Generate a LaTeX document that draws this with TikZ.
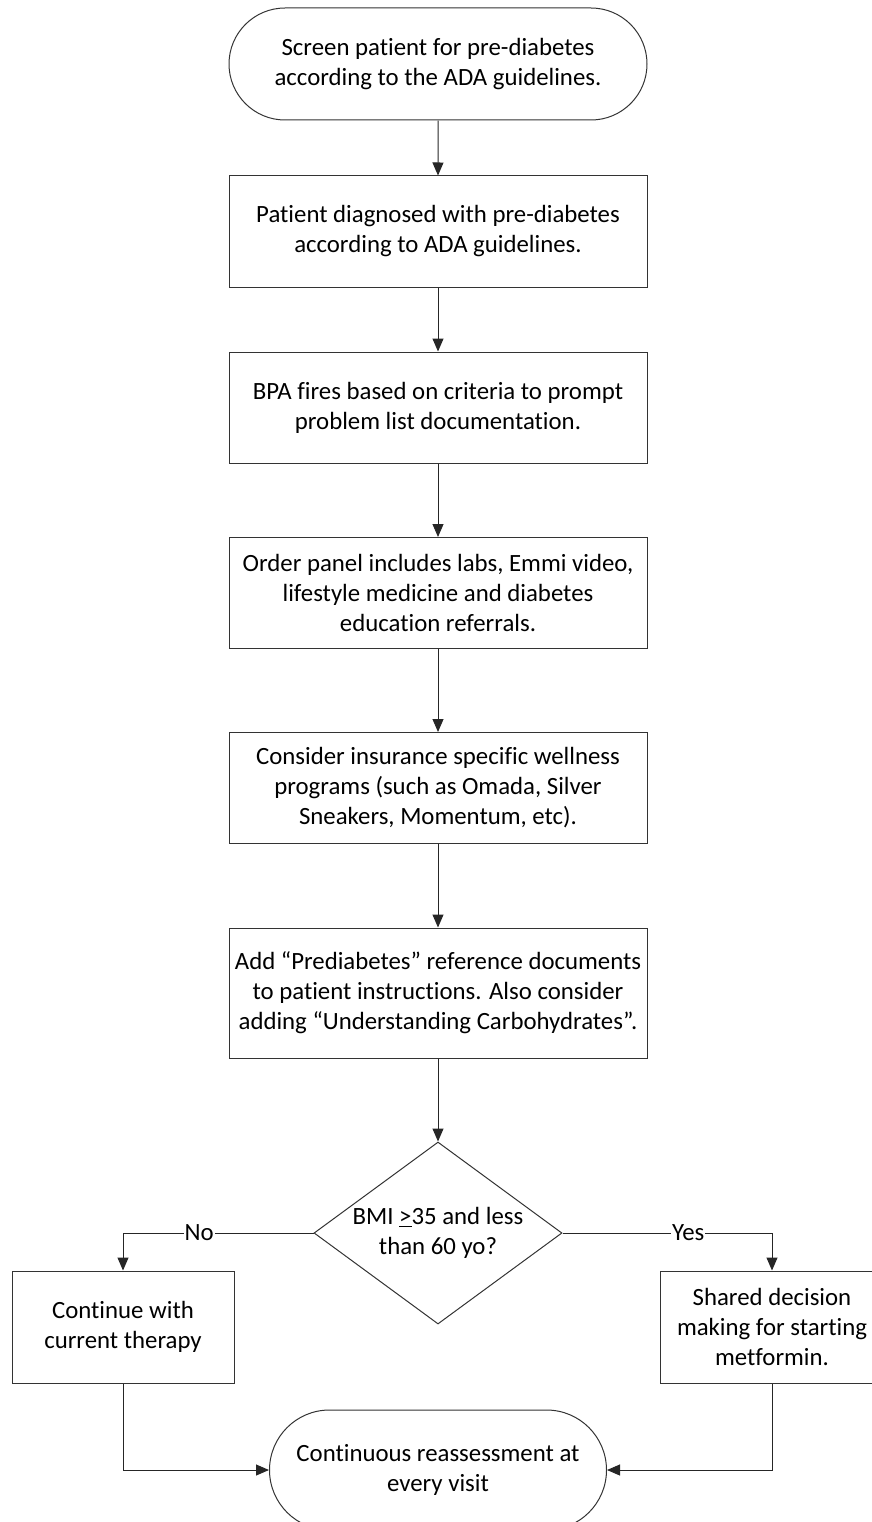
\documentclass[tikz,border=0pt]{standalone}
\usepackage{fontspec}
\setmainfont{Carlito}[Ligatures=NoCommon]
\usepackage{tikz}
\usetikzlibrary{arrows.meta,shapes.geometric,shapes.misc}

\begin{document}
\begin{tikzpicture}[x=1pt,y=-1pt,
  font=\fontsize{24.8}{30}\selectfont,
  process/.style={draw=black!80,line width=1pt,rectangle,minimum width=418pt,minimum height=111pt,inner sep=0pt,align=center},
  terminal/.style={draw=black!80,line width=1pt,rounded rectangle,minimum width=418pt,minimum height=112pt,inner sep=0pt,align=center},
  decision/.style={draw=black!80,line width=1pt,diamond,shape aspect=1.36,minimum width=248pt,minimum height=182pt,inner sep=0pt,align=center},
  flowline/.style={draw=black!85,line width=1pt,-{Triangle[length=13pt,width=11pt]}},
  answer/.style={fill=white,inner sep=1pt,pos=0.3}]
\useasboundingbox (0,0) rectangle (872,1522);
\node[terminal] (screen) at (438,64) {Screen patient for pre-diabetes\\according to the ADA guidelines.};
\node[process] (diagnosed) at (438,231.5) {Patient diagnosed with pre-diabetes\\according to ADA guidelines.};
\node[process] (bpa) at (438,407.5) {BPA fires based on criteria to prompt\\problem list documentation.};
\node[process] (panel) at (438,593) {Order panel includes labs, Emmi video,\\lifestyle medicine and diabetes\\education referrals.};
\node[process] (wellness) at (438,788) {Consider insurance specific wellness\\programs (such as Omada, Silver\\Sneakers, Momentum, etc).};
\node[process,minimum height=130pt] (refdocs) at (438,993) {Add “Prediabetes” reference documents\\to patient instructions. Also consider\\adding “Understanding Carbohydrates”.};
\node[decision] (bmi) at (438,1233) {BMI \underline{>}35 and less\\than 60 yo?};
\node[process,minimum width=222pt,minimum height=112pt] (continue) at (123,1327) {Continue with\\current therapy};
\node[process,minimum width=224pt,minimum height=112pt] (shared) at (772,1327) {Shared decision\\making for starting\\metformin.};
\node[terminal,minimum width=337pt,minimum height=120pt] (reassess) at (438,1470) {Continuous reassessment at\\every visit};

\draw[flowline] (screen) -- (diagnosed);
\draw[flowline] (diagnosed) -- (bpa);
\draw[flowline] (bpa) -- (panel);
\draw[flowline] (panel) -- (wellness);
\draw[flowline] (wellness) -- (refdocs);
\draw[flowline] (refdocs) -- (bmi);
\draw[flowline] (bmi.west) -| node[answer] {No} (continue.north);
\draw[flowline] (bmi.east) -| node[answer] {Yes} (shared.north);
\draw[flowline] (continue.south) |- (reassess.west);
\draw[flowline] (shared.south) |- (reassess.east);
\end{tikzpicture}
\end{document}
